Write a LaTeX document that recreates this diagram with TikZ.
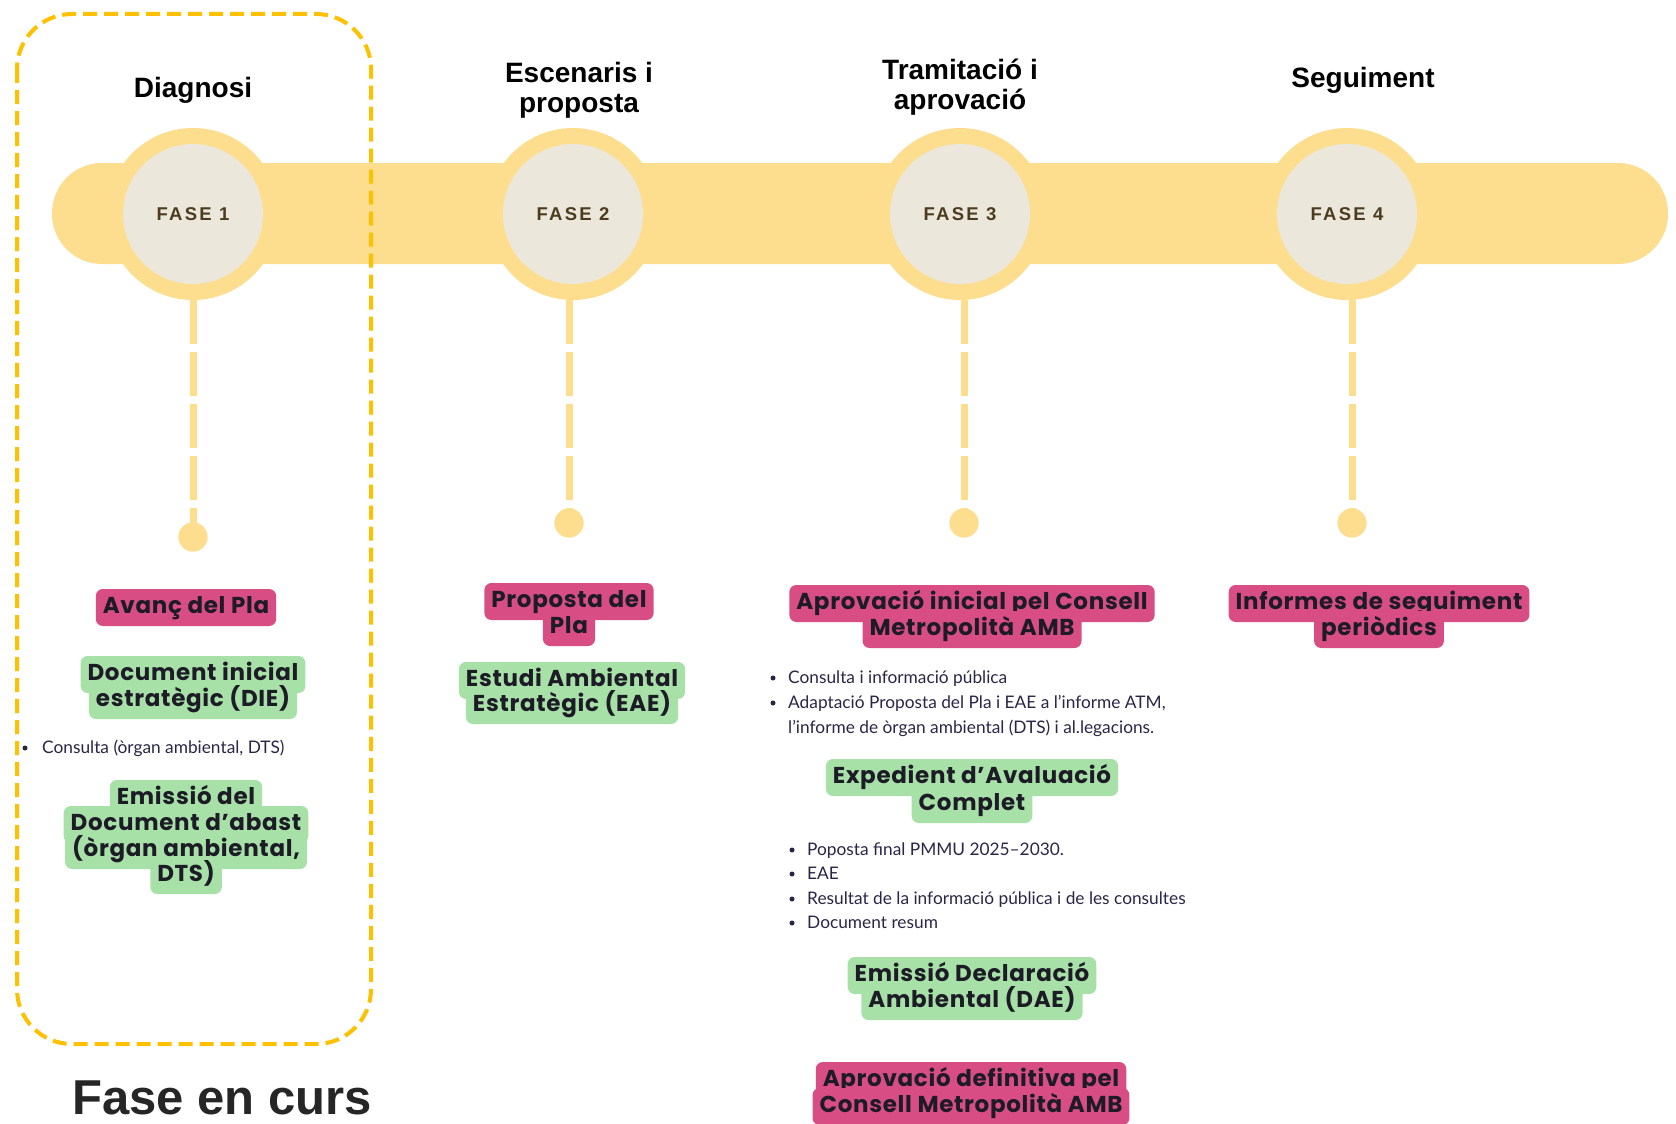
\documentclass[tikz,border=0pt]{standalone}
\usepackage{fontspec}
\setmainfont{Liberation Sans}
\newfontfamily\labfont[LetterSpace=3]{Poppins}
\newfontfamily\bulfont{Lato}
\newfontfamily\fasefont[LetterSpace=12]{Liberation Sans}
\definecolor{barc}{RGB}{253,222,142}
\definecolor{innerc}{RGB}{235,231,219}
\definecolor{boxc}{RGB}{255,192,0}
\definecolor{pinkc}{RGB}{216,78,132}
\definecolor{greenc}{RGB}{167,225,168}
\definecolor{labtext}{RGB}{28,27,38}
\definecolor{bultext}{RGB}{40,38,70}
\definecolor{fasetext}{RGB}{75,60,30}
\definecolor{fcurs}{RGB}{38,38,38}
\tikzset{
  ring/.style={circle, fill=barc, minimum size=172pt, inner sep=0pt},
  disc/.style={circle, fill=innerc, minimum size=140pt, inner sep=0pt,
    font=\fasefont\bfseries\fontsize{18.5}{20}\selectfont, text=fasetext},
  enddot/.style={circle, fill=barc, minimum size=29pt, inner sep=0pt},
  vline/.style={draw=barc, line width=7pt, dash pattern=on 44pt off 8pt},
  tit/.style={anchor=base, inner sep=0pt, font=\bfseries\fontsize{28}{31}\selectfont, text=black},
  lab/.style={anchor=base, inner xsep=7pt, inner ysep=0pt, text height=24pt, text depth=13pt,
    rounded corners=7pt, font=\labfont\bfseries\fontsize{23}{26}\selectfont, text=labtext},
  pinkl/.style={lab, fill=pinkc},
  greenl/.style={lab, fill=greenc},
  bul/.style={anchor=base west, inner sep=0pt, font=\bulfont\fontsize{17.3}{20}\selectfont, text=bultext},
  bdot/.style={fill=bultext},
}
\begin{document}
\begin{tikzpicture}[x=1pt,y=-1pt]
\useasboundingbox (0,0) rectangle (1676,1124);
% timeline bar
\fill[barc, rounded corners=50pt] (52,163) rectangle (1668,264);
% phase circles
\node[ring] (c1) at (193,214) {};
\node[ring] (c2) at (573,214) {};
\node[ring] (c3) at (960,214) {};
\node[ring] (c4) at (1347,214) {};
\node[disc] (f1) at (193,214) {FASE 1};
\node[disc] (f2) at (573,214) {FASE 2};
\node[disc] (f3) at (960,214) {FASE 3};
\node[disc] (f4) at (1347,214) {FASE 4};
% end dots
\node[enddot] (d1) at (193,537) {};
\node[enddot] (d2) at (569,523) {};
\node[enddot] (d3) at (964,523) {};
\node[enddot] (d4) at (1352,523) {};
\draw[vline] (d1 |- c1.south) -- (d1.center);
\draw[vline] (d2 |- c2.south) -- (d2.center);
\draw[vline] (d3 |- c3.south) -- (d3.center);
\draw[vline] (d4 |- c4.south) -- (d4.center);
\node[enddot] at (d1) {};
\node[enddot] at (d2) {};
\node[enddot] at (d3) {};
\node[enddot] at (d4) {};
% titles
\node[tit] (t1) at (193,97) {Diagnosi};
\node[tit] (t2a) at (579,82) {Escenaris i};
\node[tit] (t2b) at (579,112) {proposta};
\node[tit] (t3a) at (960,79) {Tramitació i};
\node[tit] (t3b) at (960,110) {aprovació};
\node[tit] (t4) at (1363,88) {Seguiment};
% Fase 1
\node[pinkl] (avanc) at (186,613) {Avanç del Pla};
\node[greenl] (die1) at (193,680) {Document inicial};
\node[greenl] (die2) at (193,706) {estratègic (DIE)};
\fill[bdot] (25,748) circle (2.5pt);
\node[bul] (cons1) at (42,753) {Consulta (òrgan ambiental, DTS)};
\node[greenl] (emi1) at (186,804) {Emissió del};
\node[greenl] (emi2) at (186,830) {Document d’abast};
\node[greenl] (emi3) at (186,856) {(òrgan ambiental,};
\node[greenl] (emi4) at (186,881) {DTS)};
% Fase 2
\node[pinkl] (prop1) at (569,607) {Proposta del};
\node[pinkl] (prop2) at (569,633) {Pla};
\node[greenl] (eae1) at (572,686) {Estudi Ambiental};
\node[greenl] (eae2) at (572,711) {Estratègic (EAE)};
% Fase 3
\node[pinkl] (ai1) at (972,609) {Aprovació inicial pel Consell};
\node[pinkl] (ai2) at (972,635) {Metropolità AMB};
\fill[bdot] (773,678) circle (2.5pt);
\fill[bdot] (773,703) circle (2.5pt);
\node[bul] (b31) at (788,683) {Consulta i informació pública};
\node[bul] (b32) at (788,708) {Adaptació Proposta del Pla i EAE a l’informe ATM,};
\node[bul] (b33) at (788,733) {l’informe de òrgan ambiental (DTS) i al.legacions.};
\node[greenl] (exp1) at (972,783) {Expedient d’Avaluació};
\node[greenl] (exp2) at (972,810) {Complet};
\fill[bdot] (792,850) circle (2.5pt);
\fill[bdot] (792,874) circle (2.5pt);
\fill[bdot] (792,899) circle (2.5pt);
\fill[bdot] (792,923) circle (2.5pt);
\node[bul] (b41) at (807,855) {Poposta final PMMU 2025–2030.};
\node[bul] (b42) at (807,879) {EAE};
\node[bul] (b43) at (807,904) {Resultat de la informació pública i de les consultes};
\node[bul] (b44) at (807,928) {Document resum};
\node[greenl] (dae1) at (972,981) {Emissió Declaració};
\node[greenl] (dae2) at (972,1007) {Ambiental (DAE)};
\node[pinkl] (def1) at (971,1086) {Aprovació definitiva pel};
\node[pinkl] (def2) at (971,1112) {Consell Metropolità AMB};
% Fase 4
\node[pinkl] (inf1) at (1379,609) {Informes de seguiment};
\node[pinkl] (inf2) at (1379,635) {periòdics};
% current phase frame
\draw[boxc, line width=4pt, dash pattern=on 14pt off 7pt, rounded corners=55pt] (17,14) rectangle (371,1044);
\node[anchor=base west, inner sep=0pt, font=\bfseries\fontsize{49}{55}\selectfont, text=fcurs] (fc) at (72,1114) {Fase en curs};
\end{tikzpicture}
\end{document}
